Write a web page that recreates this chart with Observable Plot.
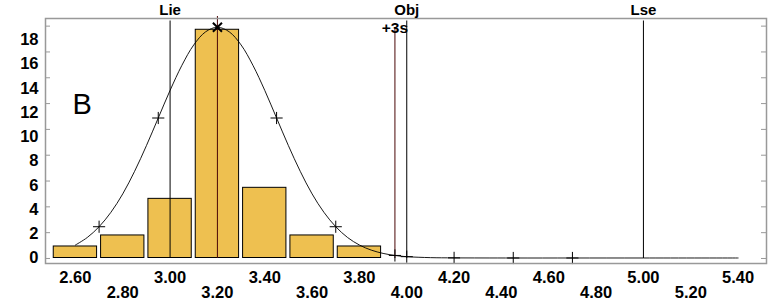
<!DOCTYPE html>
<html>
<head>
<meta charset="utf-8">
<script src="https://cdn.jsdelivr.net/npm/d3@7"></script>
<script src="https://cdn.jsdelivr.net/npm/@observablehq/plot@0.6"></script>
<style>
  html, body { margin: 0; padding: 0; background: white; }
</style>
</head>
<body>
<div id="chart"></div>
<script>
// Histogram bins
const binCenters = [2.6, 2.8, 3.0, 3.2, 3.4, 3.6, 3.8];
const binCounts  = [0.95, 1.86, 4.88, 18.83, 5.79, 1.86, 0.95];
const binWidth = 0.2;

// Fitted curve
const curveX = [2.6, 2.65, 2.7, 2.75, 2.8, 2.85, 2.9, 2.95, 3.0, 3.05, 3.1, 3.15, 3.2,
                3.25, 3.3, 3.35, 3.4, 3.45, 3.5, 3.55, 3.6, 3.65, 3.7, 3.75, 3.8, 3.85, 3.9, 3.95, 4.0,
                4.1, 4.2, 4.45, 4.7, 5.0, 5.4];
const curveY = [1.07, 1.69, 2.58, 3.77, 5.29, 7.15, 9.27, 11.55, 13.83, 15.90, 17.58, 18.66, 19.04,
                18.66, 17.58, 15.90, 13.83, 11.55, 9.27, 7.15, 5.29, 3.77, 2.58, 1.69, 1.07, 0.65, 0.38, 0.21, 0.11,
                0.03, 0.01, 0, 0, 0, 0];

// Sigma markers on the curve
const sigmaMarkX = [2.7, 2.95, 3.45, 3.7, 3.95, 4.0, 4.2, 4.45, 4.7];
const sigmaMarkY = [2.58, 11.55, 11.55, 2.58, 0.21, 0.11, 0.01, 0, 0];
const meanValue = 3.2;
const peakValue = 19.04;

// Limits
const limitLabels = ["Lie", "Obj", "Lse"];
const limitValues = [3.0, 4.0, 5.0];
const sigmaLabel = "+3s";
const plus3sValue = 3.95;
const panelLabel = "B";

// Ticks
const yLabels = [0, 2, 4, 6, 8, 10, 12, 14, 16, 18];
const xTicksRow1 = [2.6, 3.0, 3.4, 3.8, 4.2, 4.6, 5.0, 5.4];
const xTicksRow2 = [2.8, 3.2, 3.6, 4.0, 4.4, 4.8, 5.2];
const frameTicks = [-0.04, 2.09, 4.22, 6.35, 8.48, 10.61, 12.74, 14.87, 17.0, 19.13];

const bars = binCenters.map((c, i) => ({x1: c - binWidth / 2, x2: c + binWidth / 2, count: binCounts[i]}));
const curve = curveX.map((x, i) => ({x, y: curveY[i]}));
const marks = sigmaMarkX.map((x, i) => ({x, y: sigmaMarkY[i]}));
const limits = limitValues.map((v, i) => ({v, label: limitLabels[i]}));

const W = 781, H = 301, ML = 45, MR = 15, MT = 18, MB = 38;
const innerW = W - ML - MR;
const maroon = "#4a0606";
const fmt = d => d.toFixed(2);
const FS = 16.5;

const chart = Plot.plot({
  width: W,
  height: H,
  marginLeft: ML,
  marginRight: MR,
  marginTop: MT,
  marginBottom: MB,
  style: {fontFamily: "'Liberation Sans', Arial, sans-serif", fontSize: "16px", fontWeight: "bold", background: "white", color: "black"},
  x: {domain: [2.4736, 5.52]},
  y: {domain: [-0.454, 19.76]},
  marks: [
    Plot.rect(bars, {x1: "x1", x2: "x2", y1: 0, y2: "count", fill: "#EEC050", stroke: "black", strokeWidth: 1, insetLeft: 2, insetRight: 2}),
    Plot.line(curve, {x: "x", y: "y", stroke: "black", strokeWidth: 0.9, curve: "catmull-rom"}),
    Plot.ruleX(limits, {x: "v", stroke: "black", strokeWidth: 1, insetTop: 2.5, insetBottom: 5}),
    Plot.ruleX([meanValue], {x: d => d, stroke: maroon, strokeWidth: 1, insetTop: -2, insetBottom: 5}),
    Plot.ruleX([plus3sValue], {x: d => d, stroke: maroon, strokeWidth: 1, insetTop: 10, insetBottom: 5}),
    Plot.dot(marks, {x: "x", y: "y", symbol: "plus", r: 4, stroke: "black", strokeWidth: 1}),
    Plot.dot([{x: meanValue, y: peakValue}], {x: "x", y: "y", symbol: "times", r: 4.2, stroke: "black", strokeWidth: 2}),
    Plot.frame({stroke: "#999", strokeWidth: 1.5}),
    Plot.tickY(frameTicks, {y: d => d, stroke: "#999", strokeWidth: 1, insetRight: innerW - 5}),
    Plot.tickY(frameTicks, {y: d => d, stroke: "#999", strokeWidth: 1, insetLeft: innerW - 5}),
    Plot.axisY({ticks: yLabels, tickSize: 0, tickPadding: 7, label: null, fontSize: FS, fontWeight: "bold"}),
    Plot.axisX({ticks: xTicksRow1, tickSize: 0, tickPadding: 8, tickFormat: fmt, label: null, fontSize: FS, fontWeight: "bold"}),
    Plot.axisX({ticks: xTicksRow2, tickSize: 0, tickPadding: 23, tickFormat: fmt, label: null, fontSize: FS, fontWeight: "bold"}),
    Plot.text(limits, {x: "v", text: "label", frameAnchor: "top", lineAnchor: "middle", dy: -8.8, fill: "black", fontSize: 15, fontWeight: "bold"}),
    Plot.text([sigmaLabel], {x: plus3sValue, text: d => d, frameAnchor: "top", lineAnchor: "middle", dy: 10, fill: "black", fontSize: 15.5, fontWeight: "bold"}),
    Plot.text([panelLabel], {text: d => d, frameAnchor: "top-left", textAnchor: "start", lineAnchor: "middle", dx: 27, dy: 86, fontSize: 29, fontWeight: "normal", fill: "black"})
  ]
});
document.getElementById("chart").appendChild(chart);
</script>
</body>
</html>
